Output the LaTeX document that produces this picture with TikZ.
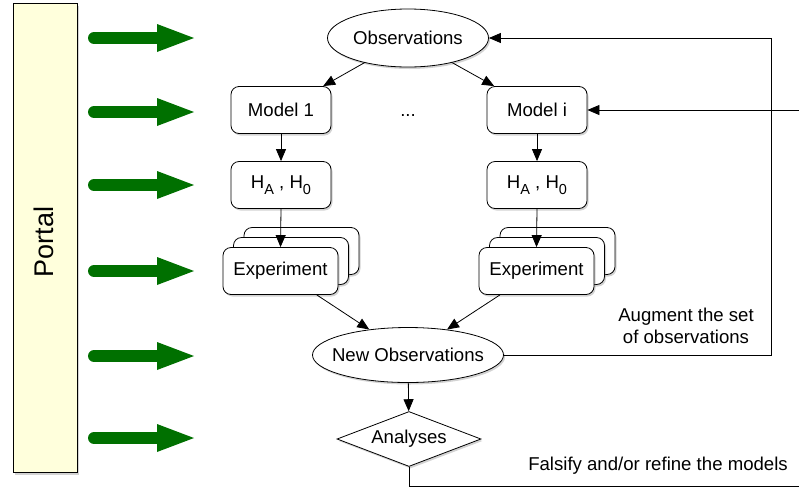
\documentclass[tikz,border=0pt]{standalone}
\usepackage{fontspec}
\setmainfont{Liberation Sans}
\usetikzlibrary{shapes.geometric,arrows.meta,shadows}
\definecolor{portalfill}{HTML}{FFFFDC}
\definecolor{arrgreen}{HTML}{007000}
\begin{document}
\begin{tikzpicture}[x=1pt,y=-1pt,
  every node/.style={font=\fontsize{18.6}{22}\selectfont},
  shad/.style={drop shadow={opacity=0.35,shadow xshift=1.5pt,shadow yshift=-2pt}},
  rbox/.style={draw,line width=0.8pt,rounded corners=8pt,fill=white,minimum width=100pt,minimum height=47pt,inner sep=0pt,shad},
  ebox/.style={draw,line width=0.8pt,rounded corners=8pt,fill=white,minimum width=115pt,minimum height=47pt,inner sep=0pt,shad},
  ell/.style={draw,line width=0.8pt,ellipse,fill=white,inner ysep=0pt,inner xsep=-40pt,shad},
  conn/.style={line width=0.8pt,-{Triangle[length=12pt,width=10pt]}},
  plain/.style={line width=0.8pt},
  lbl/.style={align=center,inner sep=0pt}
]
\useasboundingbox (0,0) rectangle (799,488);
% Portal
\node[draw,line width=0.8pt,fill=portalfill,minimum width=64pt,minimum height=469pt,inner sep=0pt,
  drop shadow={opacity=0.35,shadow xshift=2pt,shadow yshift=-3pt}] (portal) at (45,237.5) {};
\node[rotate=90,font=\fontsize{27}{30}\selectfont] (portaltxt) at (44,242) {Portal};
% green arrows
\foreach \yy in {38,112,185,271,356,438}{
  \draw[arrgreen,line width=12pt,line cap=round] (94,\yy) -- (158,\yy);
  \fill[arrgreen] (157,\yy-14) -- (194,\yy) -- (157,\yy+14) -- cycle;
}
% nodes
\node[ell,minimum width=161pt,minimum height=58pt] (obs) at (408,38) {Observations};
\node[rbox] (m1) at (281,110) {Model 1};
\node[rbox] (mi) at (537,110) {Model i};
\node (dots) at (408,116) {...};
\node[rbox] (h1) at (281,185) {H\raisebox{-0.35em}{\fontsize{14.5}{16}\selectfont A} , H\raisebox{-0.35em}{\fontsize{14.5}{16}\selectfont 0}};
\node[rbox] (hi) at (537,185) {H\raisebox{-0.35em}{\fontsize{14.5}{16}\selectfont A} , H\raisebox{-0.35em}{\fontsize{14.5}{16}\selectfont 0}};
\node[ebox] (e1c) at (301.5,251) {};
\node[ebox] (e1b) at (291,261) {};
\node[ebox] (e1) at (280.5,271) {Experiment};
\node[ebox] (eic) at (557.5,251) {};
\node[ebox] (eib) at (547,261) {};
\node[ebox] (ei) at (536.5,271) {Experiment};
\node[ell,minimum width=191pt,minimum height=55pt] (no) at (408,355) {New Observations};
\node[draw,line width=0.8pt,diamond,fill=white,aspect=2.6,minimum width=144pt,minimum height=55pt,inner sep=0pt,shad] (an) at (409,439) {Analyses};
\node[lbl] (aug) at (686,326) {Augment the set\\of observations};
\node[lbl] (fal) at (658,466) {Falsify and/or refine the models};
% coordinates
\coordinate (fbx) at (771,0);
\coordinate (rin) at (799,110);
\coordinate (rout) at (799,486);
% connectors
\draw[conn] (obs) -- (m1);
\draw[conn] (obs) -- (mi);
\draw[conn] (m1) -- (h1);
\draw[conn] (mi) -- (hi);
\draw[conn] (h1.south) -- (e1.north);
\draw[conn] (hi.south) -- (ei.north);
\draw[conn] (e1) -- (no);
\draw[conn] (ei) -- (no);
\draw[conn] (no) -- (an);
\draw[conn] (no.east) -| (fbx |- obs.east) -- (obs.east);
\draw[conn] (rin) -- (mi.east);
\draw[plain] (an.south) |- (rout);
\end{tikzpicture}
\end{document}
